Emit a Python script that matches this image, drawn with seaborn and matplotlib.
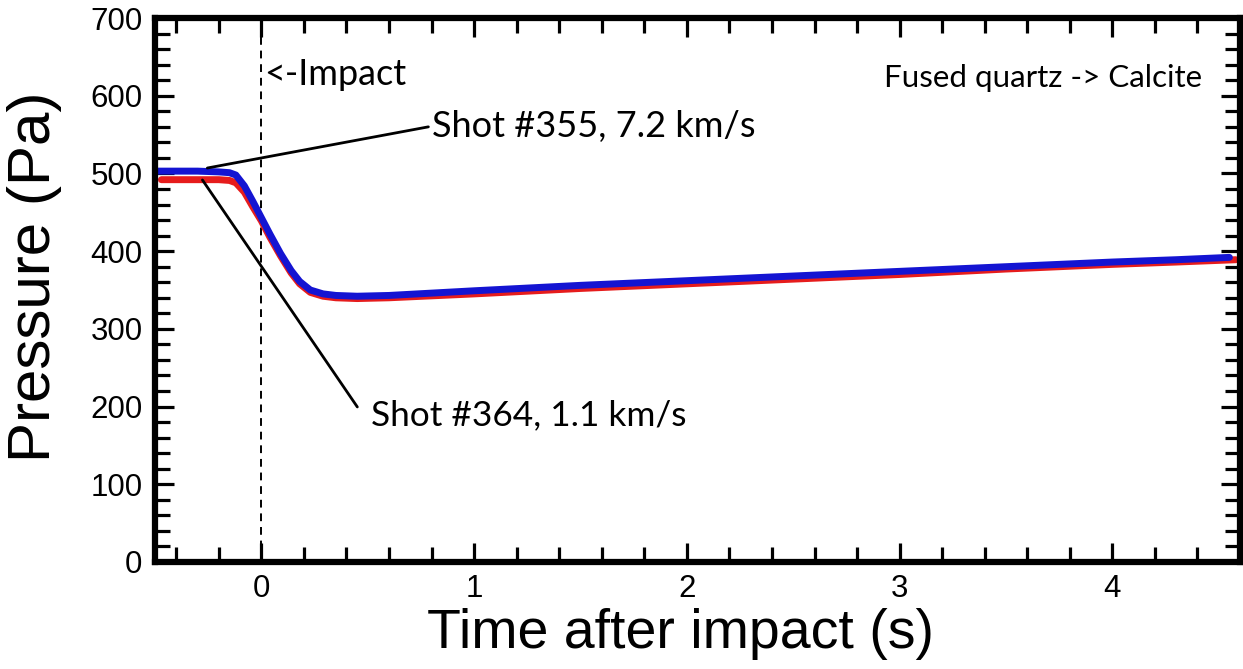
import numpy as np
import pandas as pd
import matplotlib
matplotlib.use("Agg")
import matplotlib.pyplot as plt
from matplotlib.ticker import MultipleLocator
import seaborn as sns

# Shot #355, 7.2 km/s (blue)
t_355 = [-0.50, -0.40, -0.30, -0.20, -0.15, -0.12, -0.08, -0.04, 0.00, 0.04, 0.09, 0.14,
         0.18, 0.23, 0.29, 0.35, 0.45, 0.60, 1.00, 1.50, 2.00, 2.50, 3.00, 3.50,
         4.00, 4.30, 4.55]
p_355 = [503, 503, 503, 502, 501, 498, 484, 464, 443, 422, 397, 375,
         361, 350, 345, 343, 342, 343, 349, 356, 362, 368, 374, 380,
         386, 389, 392]

# Shot #364, 1.1 km/s (red)
t_364 = [-0.47, -0.40, -0.30, -0.20, -0.15, -0.12, -0.08, -0.04, 0.00, 0.04, 0.09, 0.14,
         0.18, 0.23, 0.29, 0.35, 0.45, 0.60, 1.00, 1.50, 2.00, 2.50, 3.00, 3.50,
         4.00, 4.30, 4.58]
p_364 = [492, 492, 492, 492, 491, 488, 476, 457, 439, 418, 394, 372,
         358, 347, 342, 340, 339, 340, 345, 352, 358, 364, 370, 377,
         383, 386, 389]

x_ticks = [0, 1, 2, 3, 4]
y_ticks = [0, 100, 200, 300, 400, 500, 600, 700]

df = pd.concat([
    pd.DataFrame({"t": t_364, "p": p_364, "shot": "Shot #364, 1.1 km/s"}),
    pd.DataFrame({"t": t_355, "p": p_355, "shot": "Shot #355, 7.2 km/s"}),
], ignore_index=True)

sns.set_style("ticks")
plt.rcParams["font.family"] = ["Liberation Sans", "DejaVu Sans"]
for k in ["text.color", "axes.labelcolor", "xtick.color", "ytick.color", "axes.edgecolor"]:
    plt.rcParams[k] = "black"

fig = plt.figure(figsize=(12.43, 6.69), dpi=100)
ax = fig.add_axes([0.1247, 0.160, 0.8729, 0.813])

sns.lineplot(data=df, x="t", y="p", hue="shot",
             palette={"Shot #364, 1.1 km/s": "#e61c1c", "Shot #355, 7.2 km/s": "#1414d2"},
             linewidth=5, legend=False, ax=ax, sort=False, estimator=None)

ax.axvline(0, color="black", linestyle=(0, (4, 3)), linewidth=1.4, zorder=1)

ax.set_xlim(-0.5, 4.6)
ax.set_ylim(0, 700)
ax.set_xticks(x_ticks)
ax.set_yticks(y_ticks)
ax.xaxis.set_minor_locator(MultipleLocator(0.2))
ax.yaxis.set_minor_locator(MultipleLocator(20))

for s in ax.spines.values():
    s.set_visible(True)
    s.set_linewidth(4.5)
    s.set_color("black")

ax.tick_params(which="major", direction="in", length=14, width=2.3,
               top=True, right=True, labelsize=22.5, pad=9, color="black", labelcolor="black")
ax.tick_params(which="minor", direction="in", length=10.5, width=2.3,
               top=True, right=True, color="black")

ax.set_xlabel("Time after impact (s)", fontsize=40)
ax.set_ylabel("Pressure (Pa)", fontsize=43.3)
ax.xaxis.label.set_va("baseline")
ax.xaxis.set_label_coords(0.484, -0.158)
ax.yaxis.set_label_coords(-0.0857, 0.524)

ann_font = ["Lato", "DejaVu Sans"]
# leader lines
ax.plot([-0.254, 0.785], [507, 560], color="black", linewidth=2, zorder=4)
ax.plot([-0.277, 0.451], [491.6, 199.5], color="black", linewidth=2, zorder=4)
ax.text(0.80, 547, "Shot #355, 7.2 km/s", fontsize=26, family=ann_font,
        va="baseline", ha="left")
ax.text(0.515, 176, "Shot #364, 1.1 km/s", fontsize=25.4, family=ann_font,
        va="baseline", ha="left")

ax.text(0.015, 614, "<-Impact", fontsize=26, family=ann_font, va="baseline", ha="left")
ax.text(4.42, 611, "Fused quartz -> Calcite", fontsize=22.6, family=ann_font,
        va="baseline", ha="right")

fig.savefig("out.png", dpi=100)
